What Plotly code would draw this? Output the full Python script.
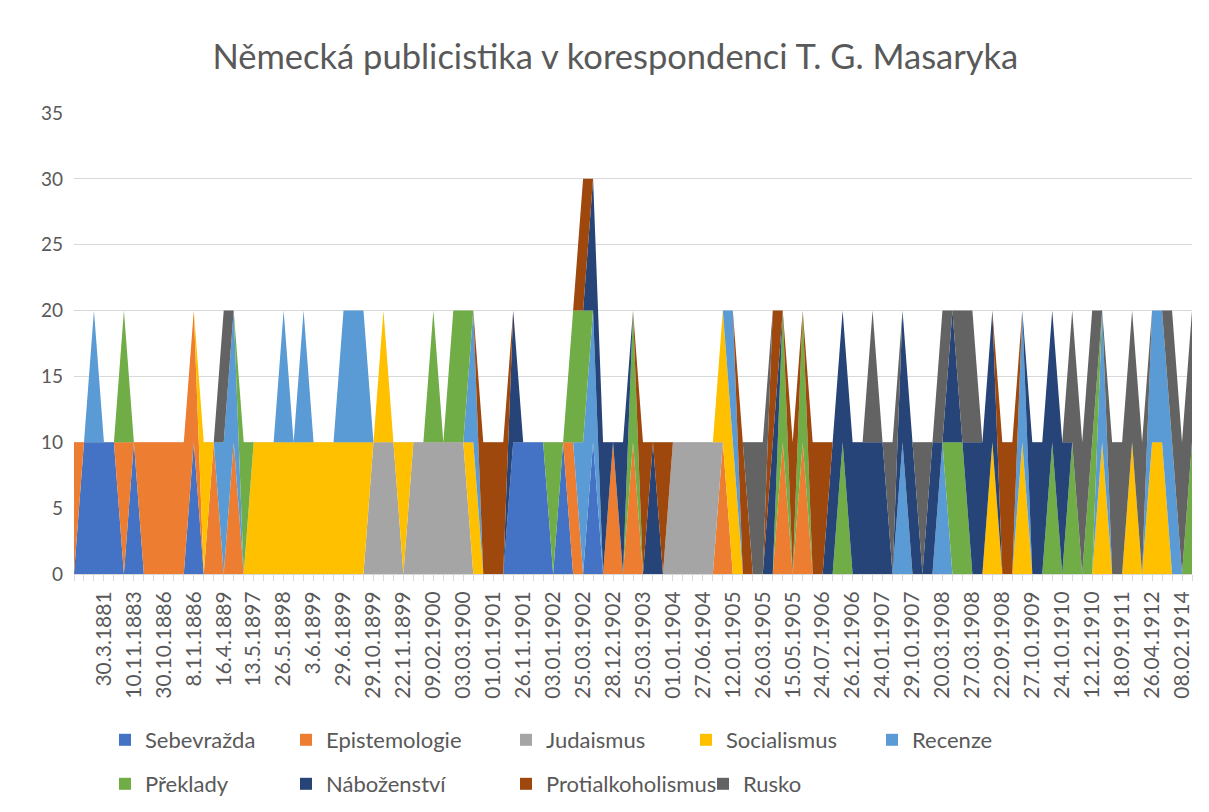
import plotly.graph_objects as go

# ---------------- data ----------------
# x = running index of the letters (113 letters, 0..112); only every third carries a date label
tick_labels = ["30.3.1881", "10.11.1883", "30.10.1886", "8.11.1886", "16.4.1889", "13.5.1897",
               "26.5.1898", "3.6.1899", "29.6.1899", "29.10.1899", "22.11.1899", "09.02.1900",
               "03.03.1900", "01.01.1901", "26.11.1901", "03.01.1902", "25.03.1902", "28.12.1902",
               "25.03.1903", "01.01.1904", "27.06.1904", "12.01.1905", "26.03.1905", "15.05.1905",
               "24.07.1906", "26.12.1906", "24.01.1907", "29.10.1907", "20.03.1908", "27.03.1908",
               "22.09.1908", "27.10.1909", "24.10.1910", "12.12.1910", "18.09.1911", "26.04.1912",
               "08.02.1914"]
tick_index = list(range(3, 112, 3))   # letter index that carries each date label

sebevrazda = [0, 10, 10, 10, 10, 0, 10, 0, 0, 0,
              0, 0, 10, 0, 0, 0, 0, 0, 0, 0,
              0, 0, 0, 0, 0, 0, 0, 0, 0, 0,
              0, 0, 0, 0, 0, 0, 0, 0, 0, 0,
              0, 0, 0, 0, 10, 10, 10, 10, 0, 10,
              0, 0, 10, 0, 0, 0, 0, 0, 0, 0,
              0, 0, 0, 0, 0, 0, 0, 0, 0, 0,
              0, 0, 0, 0, 0, 0, 0, 0, 0, 0,
              0, 0, 0, 0, 0, 0, 0, 0, 0, 0,
              0, 0, 0, 0, 0, 0, 0, 0, 0, 0,
              0, 0, 0, 0, 0, 0, 0, 0, 0, 0,
              0, 0, 0]
epistemologie = [10, 0, 0, 0, 0, 10, 0, 10, 10, 10,
                 10, 10, 10, 0, 10, 0, 10, 0, 0, 0,
                 0, 0, 0, 0, 0, 0, 0, 0, 0, 0,
                 0, 0, 0, 0, 0, 0, 0, 0, 0, 0,
                 0, 0, 0, 0, 0, 0, 0, 0, 0, 0,
                 10, 0, 0, 0, 10, 0, 10, 0, 0, 0,
                 0, 0, 0, 0, 0, 10, 0, 0, 0, 0,
                 0, 10, 0, 10, 0, 0, 0, 0, 0, 0,
                 0, 0, 0, 0, 0, 0, 0, 0, 0, 0,
                 0, 0, 0, 0, 0, 0, 0, 0, 0, 0,
                 0, 0, 0, 0, 0, 0, 0, 0, 0, 0,
                 0, 0, 0]
judaismus = [0, 0, 0, 0, 0, 0, 0, 0, 0, 0,
             0, 0, 0, 0, 0, 0, 0, 0, 0, 0,
             0, 0, 0, 0, 0, 0, 0, 0, 0, 0,
             10, 10, 10, 0, 10, 10, 10, 10, 10, 10,
             0, 0, 0, 0, 0, 0, 0, 0, 0, 0,
             0, 0, 0, 0, 0, 0, 0, 0, 0, 0,
             10, 10, 10, 10, 10, 0, 0, 0, 0, 0,
             0, 0, 0, 0, 0, 0, 0, 0, 0, 0,
             0, 0, 0, 0, 0, 0, 0, 0, 0, 0,
             0, 0, 0, 0, 0, 0, 0, 0, 0, 0,
             0, 0, 0, 0, 0, 0, 0, 0, 0, 0,
             0, 0, 0]
socialismus = [0, 0, 0, 0, 0, 0, 0, 0, 0, 0,
               0, 0, 0, 10, 0, 0, 0, 0, 10, 10,
               10, 10, 10, 10, 10, 10, 10, 10, 10, 10,
               0, 10, 0, 10, 0, 0, 0, 0, 0, 0,
               10, 0, 0, 0, 0, 0, 0, 0, 0, 0,
               0, 0, 0, 0, 0, 0, 0, 0, 0, 0,
               0, 0, 0, 0, 0, 10, 10, 0, 0, 0,
               0, 0, 0, 0, 0, 0, 0, 0, 0, 0,
               0, 0, 0, 0, 0, 0, 0, 0, 0, 0,
               0, 0, 10, 0, 0, 10, 0, 0, 0, 0,
               0, 0, 0, 10, 0, 0, 10, 0, 10, 10,
               0, 0, 0]
recenze = [0, 0, 10, 0, 0, 0, 0, 0, 0, 0,
           0, 0, 0, 0, 0, 10, 10, 0, 0, 0,
           0, 10, 0, 10, 0, 0, 0, 10, 10, 10,
           0, 0, 0, 0, 0, 0, 0, 0, 0, 0,
           10, 0, 0, 0, 0, 0, 0, 0, 0, 0,
           0, 10, 10, 0, 0, 0, 0, 0, 0, 0,
           0, 0, 0, 0, 0, 0, 10, 0, 0, 0,
           0, 0, 0, 0, 0, 0, 0, 0, 0, 0,
           0, 0, 0, 10, 0, 0, 0, 10, 0, 0,
           0, 0, 0, 0, 0, 10, 0, 0, 0, 0,
           0, 0, 0, 10, 0, 0, 0, 0, 10, 10,
           10, 0, 0]
preklady = [0, 0, 0, 0, 0, 10, 0, 0, 0, 0,
            0, 0, 0, 0, 0, 0, 0, 10, 0, 0,
            0, 0, 0, 0, 0, 0, 0, 0, 0, 0,
            0, 0, 0, 0, 0, 0, 10, 0, 10, 10,
            0, 0, 0, 0, 0, 0, 0, 0, 10, 0,
            10, 10, 0, 0, 0, 0, 10, 0, 0, 0,
            0, 0, 0, 0, 0, 0, 0, 0, 0, 0,
            0, 10, 0, 10, 0, 0, 0, 10, 0, 0,
            0, 0, 0, 0, 0, 0, 0, 0, 10, 10,
            0, 0, 0, 0, 0, 0, 0, 0, 10, 0,
            10, 0, 10, 0, 0, 0, 0, 0, 0, 0,
            0, 0, 10]
nabozenstvi = [0, 0, 0, 0, 0, 0, 0, 0, 0, 0,
               0, 0, 0, 0, 0, 0, 0, 0, 0, 0,
               0, 0, 0, 0, 0, 0, 0, 0, 0, 0,
               0, 0, 0, 0, 0, 0, 0, 0, 0, 0,
               0, 0, 0, 0, 10, 0, 0, 0, 0, 0,
               0, 0, 10, 10, 0, 10, 0, 0, 10, 0,
               0, 0, 0, 0, 0, 0, 0, 0, 0, 0,
               10, 0, 0, 0, 0, 0, 10, 10, 10, 10,
               10, 10, 0, 10, 10, 0, 10, 0, 10, 0,
               10, 10, 10, 0, 0, 0, 10, 10, 10, 10,
               0, 0, 0, 0, 0, 0, 0, 0, 0, 0,
               0, 0, 0]
protialkoholismus = [0, 0, 0, 0, 0, 0, 0, 0, 0, 0,
                     0, 0, 0, 0, 0, 0, 0, 0, 0, 0,
                     0, 0, 0, 0, 0, 0, 0, 0, 0, 0,
                     0, 0, 0, 0, 0, 0, 0, 0, 0, 0,
                     0, 10, 10, 10, 0, 0, 0, 0, 0, 0,
                     0, 10, 0, 0, 0, 0, 0, 10, 0, 10,
                     0, 0, 0, 0, 0, 0, 0, 10, 0, 0,
                     10, 0, 10, 0, 10, 10, 0, 0, 0, 0,
                     0, 0, 0, 0, 0, 0, 0, 0, 0, 0,
                     0, 0, 0, 10, 10, 0, 0, 0, 0, 0,
                     0, 0, 0, 0, 0, 0, 0, 0, 0, 0,
                     0, 0, 0]
rusko = [0, 0, 0, 0, 0, 0, 0, 0, 0, 0,
         0, 0, 0, 0, 0, 10, 0, 0, 0, 0,
         0, 0, 0, 0, 0, 0, 0, 0, 0, 0,
         0, 0, 0, 0, 0, 0, 0, 0, 0, 0,
         0, 0, 0, 0, 0, 0, 0, 0, 0, 0,
         0, 0, 0, 0, 0, 0, 0, 0, 0, 0,
         0, 0, 0, 0, 0, 0, 0, 0, 10, 10,
         0, 0, 0, 0, 0, 0, 0, 0, 0, 0,
         10, 0, 10, 0, 0, 10, 0, 10, 0, 10,
         10, 0, 0, 0, 0, 0, 0, 0, 0, 0,
         10, 10, 10, 0, 10, 10, 10, 10, 0, 0,
         10, 10, 10]

series_names = ["Sebevražda", "Epistemologie", "Judaismus", "Socialismus", "Recenze",
                "Překlady", "Náboženství", "Protialkoholismus", "Rusko"]
series_values = [sebevrazda, epistemologie, judaismus, socialismus, recenze,
                 preklady, nabozenstvi, protialkoholismus, rusko]
series_colors = ["#4472C4", "#ED7D31", "#A5A5A5", "#FFC000", "#5B9BD5",
                 "#70AD47", "#264478", "#9E480E", "#636363"]

x_index = list(range(len(sebevrazda)))

# ---------------- figure ----------------
FONT = "Lato"
TXT = "#595959"
GRID = "#D9D9D9"
W, H = 1209, 812

fig = go.Figure()
for name, vals, col in zip(series_names, series_values, series_colors):
    fig.add_trace(go.Scatter(
        x=x_index, y=vals, name=name, stackgroup="one", mode="lines",
        line=dict(width=0, color=col), fillcolor=col, showlegend=False,
        hoverinfo="x+y+name"))

# legend entries placed like Excel's two-row legend (left edge px, row centre px)
legend_left_px = [105, 286, 506, 686, 872, 105, 286, 506, 703]
legend_row_px = [740, 740, 740, 740, 740, 784, 784, 784, 784]
layout_legends = {}
for k in range(len(series_names)):
    lname = "legend" if k == 0 else f"legend{k + 1}"
    fig.add_trace(go.Scatter(
        x=[None], y=[None], mode="markers", name=series_names[k],
        marker=dict(symbol="square", size=12, color=series_colors[k]),
        legend=lname, showlegend=True))
    layout_legends[lname] = dict(
        xref="container", yref="container",
        x=legend_left_px[k] / W, y=1 - legend_row_px[k] / H,
        xanchor="left", yanchor="middle", orientation="v",
        font=dict(family=FONT, size=22, color=TXT),
        bgcolor="rgba(0,0,0,0)", borderwidth=0)

fig.update_layout(
    width=W, height=H,
    margin=dict(l=74, r=17, t=113, b=238, autoexpand=False),
    paper_bgcolor="white", plot_bgcolor="white",
    title=dict(text="Německá publicistika v korespondenci T. G. Masaryka",
               font=dict(family=FONT, size=34.5, color=TXT),
               x=0.509, xref="container", xanchor="center",
               y=0.93, yref="container", yanchor="middle"),
    font=dict(family=FONT, color=TXT),
    **layout_legends,
)

fig.update_yaxes(range=[0, 35], dtick=5, tick0=0, showgrid=True, gridcolor=GRID, gridwidth=1,
                 zeroline=False, showline=False, ticks="", ticklabelstandoff=10,
                 automargin=False,
                 tickfont=dict(family=FONT, size=19, color=TXT))
fig.update_xaxes(range=[0, len(sebevrazda) - 1], tickmode="array", tickvals=tick_index,
                 ticktext=tick_labels, tickangle=-90, ticks="outside", ticklen=6,
                 tickcolor=GRID, tickwidth=1, showgrid=False, zeroline=False,
                 showline=True, linecolor=GRID, linewidth=1, ticklabelstandoff=2,
                 automargin=False,
                 tickfont=dict(family=FONT, size=21, color=TXT),
                 minor=dict(dtick=1, tick0=0, ticks="outside", ticklen=6,
                            tickcolor=GRID, tickwidth=1, showgrid=False))

fig.write_html("out.html", config={"displayModeBar": False},
               post_script="document.body.style.margin='0';")
